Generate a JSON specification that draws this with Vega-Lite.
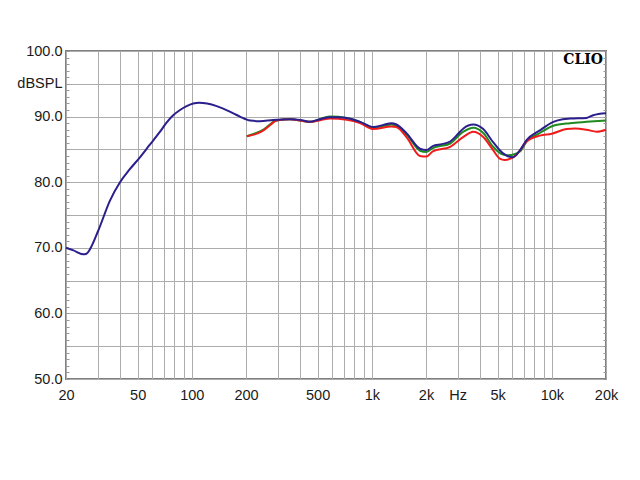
{
  "$schema": "https://vega.github.io/schema/vega-lite/v6.json",
  "autosize": "none",
  "width": 540,
  "height": 328,
  "padding": {"left": 66, "top": 51, "right": 34, "bottom": 101},
  "background": "white",
  "config": {
    "view": {"stroke": "#808080", "strokeWidth": 2},
    "font": "Liberation Sans"
  },
  "datasets": {
    "curves": [
      {"s": "red", "f": 202, "db": 87.0}, {"s": "red", "f": 230, "db": 87.4}, {"s": "red", "f": 250, "db": 87.9}, {"s": "red", "f": 275, "db": 88.8}, {"s": "red", "f": 295, "db": 89.4}, {"s": "red", "f": 351, "db": 89.6}, {"s": "red", "f": 452, "db": 89.2}, {"s": "red", "f": 586, "db": 89.7}, {"s": "red", "f": 726, "db": 89.5}, {"s": "red", "f": 860, "db": 89.0}, {"s": "red", "f": 1022, "db": 88.1}, {"s": "red", "f": 1286, "db": 88.5}, {"s": "red", "f": 1370, "db": 88.4}, {"s": "red", "f": 1566, "db": 86.8}, {"s": "red", "f": 1852, "db": 84.0}, {"s": "red", "f": 2010, "db": 83.9}, {"s": "red", "f": 2181, "db": 84.7}, {"s": "red", "f": 2725, "db": 85.4}, {"s": "red", "f": 3228, "db": 86.9}, {"s": "red", "f": 3660, "db": 87.7}, {"s": "red", "f": 4160, "db": 86.9}, {"s": "red", "f": 4720, "db": 84.9}, {"s": "red", "f": 5140, "db": 83.6}, {"s": "red", "f": 5460, "db": 83.4}, {"s": "red", "f": 6370, "db": 84.2}, {"s": "red", "f": 7240, "db": 86.2}, {"s": "red", "f": 8580, "db": 87.1}, {"s": "red", "f": 10000, "db": 87.4}, {"s": "red", "f": 12080, "db": 88.1}, {"s": "red", "f": 13500, "db": 88.2}, {"s": "red", "f": 15600, "db": 88.0}, {"s": "red", "f": 17780, "db": 87.7}, {"s": "red", "f": 20000, "db": 88.0},
      {"s": "green", "f": 202, "db": 87.0}, {"s": "green", "f": 250, "db": 88.0}, {"s": "green", "f": 295, "db": 89.4}, {"s": "green", "f": 351, "db": 89.6}, {"s": "green", "f": 452, "db": 89.2}, {"s": "green", "f": 586, "db": 90.0}, {"s": "green", "f": 726, "db": 89.8}, {"s": "green", "f": 860, "db": 89.2}, {"s": "green", "f": 1022, "db": 88.3}, {"s": "green", "f": 1286, "db": 88.8}, {"s": "green", "f": 1566, "db": 87.2}, {"s": "green", "f": 1852, "db": 84.8}, {"s": "green", "f": 2010, "db": 84.6}, {"s": "green", "f": 2181, "db": 85.2}, {"s": "green", "f": 2725, "db": 85.9}, {"s": "green", "f": 3228, "db": 87.7}, {"s": "green", "f": 3660, "db": 88.3}, {"s": "green", "f": 4160, "db": 87.5}, {"s": "green", "f": 4720, "db": 85.4}, {"s": "green", "f": 5360, "db": 84.2}, {"s": "green", "f": 5750, "db": 84.1}, {"s": "green", "f": 6660, "db": 84.7}, {"s": "green", "f": 7240, "db": 86.2}, {"s": "green", "f": 8580, "db": 87.5}, {"s": "green", "f": 10200, "db": 88.6}, {"s": "green", "f": 12620, "db": 89.0}, {"s": "green", "f": 15600, "db": 89.2}, {"s": "green", "f": 20000, "db": 89.4},
      {"s": "blue", "f": 20, "db": 70.0}, {"s": "blue", "f": 22, "db": 69.6}, {"s": "blue", "f": 24.9, "db": 69.0}, {"s": "blue", "f": 26, "db": 69.1}, {"s": "blue", "f": 27.2, "db": 69.8}, {"s": "blue", "f": 30.2, "db": 72.6}, {"s": "blue", "f": 35.1, "db": 77.2}, {"s": "blue", "f": 39.9, "db": 80.0}, {"s": "blue", "f": 45, "db": 81.9}, {"s": "blue", "f": 51.5, "db": 83.8}, {"s": "blue", "f": 58, "db": 85.6}, {"s": "blue", "f": 66.6, "db": 87.7}, {"s": "blue", "f": 72, "db": 89.0}, {"s": "blue", "f": 78.8, "db": 90.2}, {"s": "blue", "f": 86, "db": 91.0}, {"s": "blue", "f": 93.6, "db": 91.6}, {"s": "blue", "f": 109.8, "db": 92.1}, {"s": "blue", "f": 137.5, "db": 91.6}, {"s": "blue", "f": 170, "db": 90.5}, {"s": "blue", "f": 185, "db": 90.0}, {"s": "blue", "f": 211, "db": 89.4}, {"s": "blue", "f": 239, "db": 89.3}, {"s": "blue", "f": 283, "db": 89.5}, {"s": "blue", "f": 351, "db": 89.6}, {"s": "blue", "f": 400, "db": 89.5}, {"s": "blue", "f": 452, "db": 89.2}, {"s": "blue", "f": 514, "db": 89.6}, {"s": "blue", "f": 586, "db": 89.9}, {"s": "blue", "f": 650, "db": 89.9}, {"s": "blue", "f": 726, "db": 89.8}, {"s": "blue", "f": 860, "db": 89.2}, {"s": "blue", "f": 1022, "db": 88.4}, {"s": "blue", "f": 1150, "db": 88.7}, {"s": "blue", "f": 1286, "db": 89.0}, {"s": "blue", "f": 1370, "db": 88.8}, {"s": "blue", "f": 1566, "db": 87.4}, {"s": "blue", "f": 1852, "db": 85.1}, {"s": "blue", "f": 2010, "db": 84.9}, {"s": "blue", "f": 2181, "db": 85.5}, {"s": "blue", "f": 2450, "db": 85.8}, {"s": "blue", "f": 2725, "db": 86.2}, {"s": "blue", "f": 3000, "db": 87.3}, {"s": "blue", "f": 3228, "db": 88.2}, {"s": "blue", "f": 3660, "db": 88.8}, {"s": "blue", "f": 4160, "db": 88.1}, {"s": "blue", "f": 4720, "db": 86.1}, {"s": "blue", "f": 5360, "db": 84.4}, {"s": "blue", "f": 6090, "db": 83.8}, {"s": "blue", "f": 6660, "db": 84.9}, {"s": "blue", "f": 7240, "db": 86.4}, {"s": "blue", "f": 8580, "db": 87.9}, {"s": "blue", "f": 10200, "db": 89.2}, {"s": "blue", "f": 11500, "db": 89.6}, {"s": "blue", "f": 12620, "db": 89.7}, {"s": "blue", "f": 15600, "db": 89.8}, {"s": "blue", "f": 16960, "db": 90.2}, {"s": "blue", "f": 20000, "db": 90.5}
    ],
    "brand": [{"label": "CLIO"}]
  },
  "resolve": {"axis": {"y": "independent"}},
  "layer": [
    {
      "data": {"name": "curves"},
      "transform": [{"filter": "datum.s === 'green'"}],
      "mark": {"type": "line", "color": "#1f8a1f", "strokeWidth": 2, "interpolate": "monotone"},
      "encoding": {
        "x": {
          "field": "f", "type": "quantitative",
          "scale": {"type": "log", "domain": [20, 20000], "nice": false},
          "axis": {
            "title": null,
            "values": [20, 30, 40, 50, 60, 70, 80, 90, 100, 200, 300, 400, 500, 600, 700, 800, 900, 1000, 2000, 3000, 4000, 5000, 6000, 7000, 8000, 9000, 10000, 20000],
            "labelExpr": "indexof([20,50,100,200,500,1000,2000,5000,10000,20000], datum.value) >= 0 ? (datum.value >= 1000 ? (datum.value/1000) + 'k' : '' + datum.value) : (datum.value == 3000 ? 'Hz' : '')",
            "labelOverlap": false,
            "labelFlush": false,
            "labelFont": "Liberation Sans",
            "labelFontSize": 14.5,
            "labelColor": "#1a1a1a",
            "labelPadding": 9,
            "ticks": false,
            "domain": false,
            "grid": true,
            "gridColor": "#acacac",
            "gridWidth": 1
          }
        },
        "y": {
          "field": "db", "type": "quantitative",
          "scale": {"domain": [50, 100], "nice": false, "zero": false},
          "axis": {
            "title": null,
            "orient": "left",
            "values": [50,51,52,53,54,55,56,57,58,59,60,61,62,63,64,65,66,67,68,69,70,71,72,73,74,75,76,77,78,79,80,81,82,83,84,85,86,87,88,89,90,91,92,93,94,95,96,97,98,99,100],
            "labelExpr": "datum.value == 95 ? 'dBSPL' : (datum.value % 10 == 0 ? format(datum.value, '.1f') : '')",
            "labelOverlap": false,
            "labelFlush": false,
            "labelFont": "Liberation Sans",
            "labelFontSize": 14.5,
            "labelColor": "#1a1a1a",
            "labelPadding": 7,
            "tickSize": -3,
            "tickColor": "#999999",
            "domain": false,
            "grid": true,
            "gridColor": "#acacac",
            "gridWidth": 1,
            "gridOpacity": {"condition": {"test": "datum.value % 5 == 0", "value": 1}, "value": 0}
          }
        }
      }
    },
    {
      "data": {"name": "curves"},
      "transform": [{"filter": "datum.s === 'red'"}],
      "mark": {"type": "line", "color": "#f01c1c", "strokeWidth": 2, "interpolate": "monotone"},
      "encoding": {
        "x": {"field": "f", "type": "quantitative"},
        "y": {
          "field": "db", "type": "quantitative",
          "axis": {
            "title": null,
            "orient": "right",
            "values": [50,51,52,53,54,55,56,57,58,59,60,61,62,63,64,65,66,67,68,69,70,71,72,73,74,75,76,77,78,79,80,81,82,83,84,85,86,87,88,89,90,91,92,93,94,95,96,97,98,99,100],
            "labels": false,
            "tickSize": -3,
            "tickColor": "#999999",
            "domain": false,
            "grid": false
          }
        }
      }
    },
    {
      "data": {"name": "curves"},
      "transform": [{"filter": "datum.s === 'blue'"}],
      "mark": {"type": "line", "color": "#2a1f8c", "strokeWidth": 2, "interpolate": "monotone"},
      "encoding": {
        "x": {"field": "f", "type": "quantitative"},
        "y": {"field": "db", "type": "quantitative", "axis": null}
      }
    },
    {
      "data": {"name": "brand"},
      "mark": {"type": "text", "font": "DejaVu Serif", "fontWeight": "bold", "fontSize": 14, "align": "right", "baseline": "top", "dx": -3, "dy": 2, "color": "#000000"},
      "encoding": {
        "x": {"datum": 20000, "type": "quantitative"},
        "y": {"datum": 100, "type": "quantitative", "axis": null},
        "text": {"field": "label"}
      }
    }
  ]
}
